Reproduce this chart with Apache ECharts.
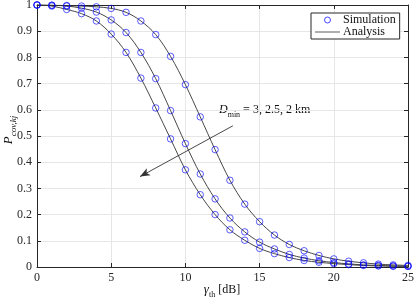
<!DOCTYPE html>
<html><head><meta charset="utf-8">
<script src="https://cdn.jsdelivr.net/npm/echarts@6/dist/echarts.min.js"></script>
<style>html,body{margin:0;padding:0;background:#fff}#c{width:415px;height:301px}</style>
</head><body><div id="c"></div>
<script>
const gammaTh = [0,1,2,3,4,5,6,7,8,9,10,11,12,13,14,15,16,17,18,19,20,21,22,23,24,25];
const pcovD3  = [1,0.999,0.998,0.996,0.993,0.987,0.972,0.939,0.887,0.804,0.696,0.573,0.448,0.331,0.240,0.173,0.122,0.086,0.062,0.044,0.031,0.022,0.016,0.011,0.008,0.006];
const pcovD25 = [1,0.999,0.996,0.988,0.973,0.943,0.895,0.819,0.719,0.597,0.471,0.355,0.260,0.187,0.134,0.095,0.069,0.048,0.034,0.024,0.017,0.012,0.008,0.006,0.004,0.003];
const pcovD2  = [1,0.996,0.983,0.967,0.939,0.889,0.819,0.721,0.607,0.489,0.371,0.276,0.200,0.142,0.102,0.071,0.051,0.036,0.025,0.018,0.013,0.009,0.006,0.004,0.003,0.002];
const xTicks = [0,5,10,15,20,25];
const yTickStep = 0.1;
const arrowFrom = [13.2, 0.539];
const arrowTo = [6.94, 0.345];

const FONT = '"Liberation Serif", "DejaVu Serif", serif';
const AX = '#262626';
const zip = a => gammaTh.map((x,i)=>[x,a[i]]);
const curves = [pcovD3, pcovD25, pcovD2];

const series = [];
curves.forEach((c,i)=>{
  series.push({
    name:'Analysis', type:'line', data: zip(c), smooth:0.35, showSymbol:false, symbol:'none',
    lineStyle:{color:'#333', width:0.9}, itemStyle:{color:'#333'}, z:2, silent:true,
    markLine: i===0 ? {
      silent:true, symbol:['none','arrow'], symbolSize:[6,10],
      lineStyle:{color:'#333', width:0.9, type:'solid'}, label:{show:false},
      data:[[{coord:arrowFrom},{coord:arrowTo}]]
    } : undefined
  });
});
curves.forEach(c=>{
  series.push({
    name:'Simulation', type:'scatter', data: zip(c), symbol:'circle', symbolSize:6.5, clip:false,
    itemStyle:{color:'rgba(0,0,0,0)', borderColor:'#0000ff', borderWidth:0.8}, z:3, silent:true
  });
});

const subRich = (big, small, rest, italicSub) => ({
  b:{fontSize:big, fontFamily:FONT, fontStyle:'italic', fill:'#111', padding:[0,0,3,0], verticalAlign:'bottom'},
  s:{fontSize:small, fontFamily:FONT, fontStyle: italicSub ? 'italic' : 'normal', fill:'#111', verticalAlign:'bottom'},
  t:{fontSize:rest, fontFamily:FONT, fill:'#111', padding:[0,0,3,0], verticalAlign:'bottom'}
});

const chart = echarts.init(document.getElementById('c'), null, {renderer:'canvas'});
chart.setOption({
  animation:false,
  backgroundColor:'#fff',
  grid:{left:37, right:7, top:5, bottom:34, containLabel:false, outerBoundsMode:'none'},
  xAxis:[{
    type:'value', min:0, max:25, interval:5,
    axisLine:{onZero:false, lineStyle:{color:AX, width:1}},
    axisTick:{inside:true, length:4, lineStyle:{color:AX}},
    axisLabel:{color:AX, fontFamily:FONT, fontSize:12, margin:5, formatter:v=>xTicks.includes(v)?String(v):''},
    splitLine:{show:true, lineStyle:{color:'#e6e6e6', width:1}}
  },{
    type:'value', min:0, max:25, interval:5, position:'top',
    axisLine:{onZero:false, lineStyle:{color:AX, width:1}},
    axisTick:{inside:true, length:4, lineStyle:{color:AX}},
    axisLabel:{show:false}, splitLine:{show:false}
  }],
  yAxis:[{
    type:'value', min:0, max:1, interval:yTickStep,
    axisLine:{show:true, onZero:false, lineStyle:{color:AX, width:1}},
    axisTick:{show:true, inside:true, length:4, lineStyle:{color:AX}},
    axisLabel:{color:AX, fontFamily:FONT, fontSize:12, margin:5, formatter:v=>String(Math.round(v*10)/10)},
    splitLine:{show:true, lineStyle:{color:'#e6e6e6', width:1}}
  },{
    type:'value', min:0, max:1, interval:yTickStep, position:'right',
    axisLine:{show:true, onZero:false, lineStyle:{color:AX, width:1}},
    axisTick:{show:true, inside:true, length:4, lineStyle:{color:AX}},
    axisLabel:{show:false}, splitLine:{show:false}
  }],
  legend:{
    orient:'vertical', left:311, top:13, width:89,
    backgroundColor:'#fff', borderColor:AX, borderWidth:1, padding:[1,4,1,4],
    itemGap:0, itemWidth:25, itemHeight:6,
    textStyle:{color:'#111', fontFamily:FONT, fontSize:12, padding:[0,0,0,-2]},
    data:[
      {name:'Simulation', icon:'circle', itemStyle:{color:'rgba(0,0,0,0)', borderColor:'#0000ff', borderWidth:0.9}},
      {name:'Analysis', icon:'path://M0,2.6 L25,2.6 L25,3.4 L0,3.4 Z', itemStyle:{color:'#333', borderWidth:0}}
    ]
  },
  graphic:[{
    type:'text', left:219, top:104, silent:true,
    style:{ text:'{b|D}{s|min}{t| = 3, 2.5, 2 km}', font:'12px '+FONT, fill:'#111', rich: subRich(12, 8, 12, false) }
  },{
    type:'text', x:222, y:291, silent:true,
    style:{ text:'{b|γ}{s|th}{t| [dB]}', font:'12px '+FONT, fill:'#111', align:'center', verticalAlign:'middle', rich: subRich(13, 8, 12, false) }
  },{
    type:'text', x:10, y:130, rotation:Math.PI/2, silent:true,
    style:{ text:'{b|P}{s|cov,kj}', font:'12px '+FONT, fill:'#111', align:'center', verticalAlign:'middle', rich: subRich(13, 9, 12, true) }
  }],
  series: series
});
</script></body></html>
